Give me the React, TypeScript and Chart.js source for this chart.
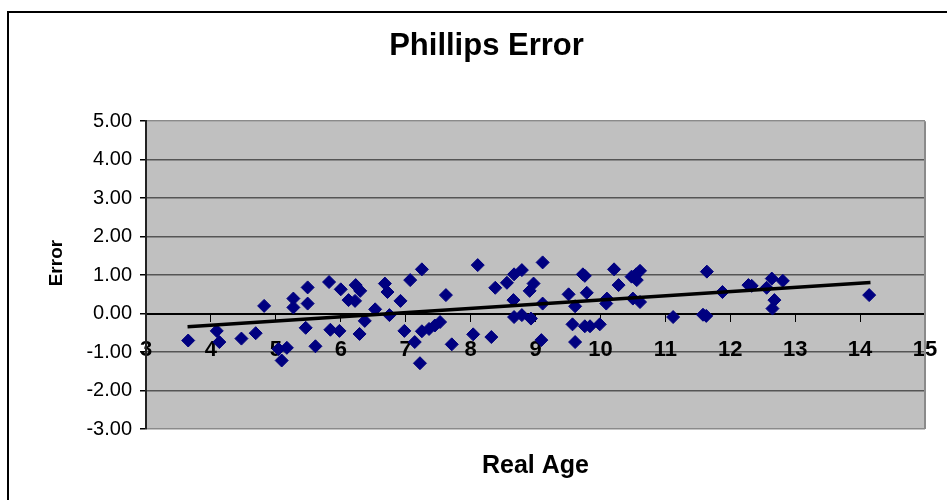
import { useEffect, useRef } from "react";
import { Chart, registerables } from "chart.js";

Chart.register(...registerables);

const chartTitle = "Phillips Error";
const xAxisTitle = "Real Age";
const yAxisTitle = "Error";

const xMin = 3;
const xMax = 15;
const yMin = -3;
const yMax = 5;

const realAge = [
  3.65, 4.09, 4.13, 4.47, 4.69, 4.82, 5.04, 5.17, 5.09, 5.27,
  5.27, 5.49, 5.49, 5.46, 5.61, 5.82, 6.0, 6.12, 5.84, 5.98,
  6.23, 6.3, 6.22, 6.29, 6.37, 6.53, 6.68, 6.72, 6.75, 6.92,
  6.98, 7.07, 7.25, 7.14, 7.22, 7.25, 7.36, 7.45, 7.53, 7.62,
  7.71, 8.04, 8.11, 8.32, 8.38, 8.56, 8.67, 8.79, 8.66, 8.67,
  8.79, 8.93, 8.97, 8.91, 9.11, 9.11, 9.09, 9.51, 9.61, 9.57,
  9.61, 9.73, 9.76, 9.79, 9.76, 9.84, 9.99, 10.1, 10.09, 10.21,
  10.28, 10.48, 10.55, 10.61, 10.56, 10.5, 10.61, 11.12, 11.64, 11.58,
  11.63, 11.88, 12.28, 12.33, 12.56, 12.64, 12.81, 12.68, 12.65, 14.14,
];

const errorValues = [
  -0.7, -0.45, -0.74, -0.65, -0.51, 0.2, -0.92, -0.89, -1.22, 0.39,
  0.16, 0.68, 0.26, -0.37, -0.85, 0.82, 0.63, 0.35, -0.42, -0.45,
  0.74, 0.59, 0.33, -0.53, -0.19, 0.11, 0.78, 0.56, -0.04, 0.33,
  -0.45, 0.87, 1.15, -0.74, -1.29, -0.46, -0.4, -0.31, -0.22, 0.48,
  -0.8, -0.54, 1.26, -0.61, 0.67, 0.8, 1.02, 1.13, 0.35, -0.09,
  -0.04, -0.13, 0.78, 0.59, 1.33, 0.26, -0.69, 0.5, 0.19, -0.28,
  -0.74, 1.02, 0.98, 0.54, -0.33, -0.33, -0.28, 0.39, 0.26, 1.15,
  0.74, 0.96, 1.02, 1.11, 0.87, 0.39, 0.3, -0.09, 1.09, -0.03,
  -0.06, 0.56, 0.74, 0.72, 0.67, 0.91, 0.85, 0.35, 0.13, 0.48,
];

const trendX = [3.64, 14.16];
const trendY = [-0.34, 0.81];

const FONT = "'Liberation Sans', Arial, Helvetica, sans-serif";

const plotArea = {
  id: "plotArea",
  beforeDraw(chart: any) {
    const { ctx, chartArea: a } = chart;
    ctx.save();
    ctx.fillStyle = "#C0C0C0";
    ctx.fillRect(a.left, a.top, a.right - a.left, a.bottom - a.top);
    ctx.restore();
  },
  beforeDatasetsDraw(chart: any) {
    const { ctx, chartArea: a } = chart;
    ctx.save();
    ctx.strokeStyle = "#8a8a8a";
    ctx.lineWidth = 2;
    ctx.beginPath();
    ctx.moveTo(a.right, a.top);
    ctx.lineTo(a.right, a.bottom);
    ctx.stroke();
    ctx.restore();
  },
  afterDraw(chart: any) {
    const { ctx, chartArea: a } = chart;
    ctx.save();
    ctx.translate(57, (a.top + a.bottom) / 2 - 12);
    ctx.rotate(-Math.PI / 2);
    ctx.fillStyle = "#000";
    ctx.font = `bold 19px ${FONT}`;
    ctx.textAlign = "center";
    ctx.textBaseline = "middle";
    ctx.fillText(yAxisTitle, 0, 0);
    ctx.restore();
  },
};

export default function App() {
  const ref = useRef<HTMLCanvasElement | null>(null);

  useEffect(() => {
    if (!ref.current) return;
    const points = realAge.map((x, i) => ({ x, y: errorValues[i] }));
    const trend = trendX.map((x, i) => ({ x, y: trendY[i] }));
    const chart = new Chart(ref.current, {
      type: "scatter",
      data: {
        datasets: [
          {
            label: "Error",
            data: points,
            xAxisID: "x",
            yAxisID: "y",
            pointStyle: "rectRot",
            pointRadius: 6.5,
            pointHoverRadius: 6.5,
            backgroundColor: "#000080",
            borderColor: "#000080",
            borderWidth: 1,
            order: 2,
          },
          {
            label: "Trend",
            data: trend,
            xAxisID: "x",
            yAxisID: "y",
            showLine: true,
            pointRadius: 0,
            borderColor: "#000000",
            borderWidth: 3.5,
            order: 1,
          } as any,
        ],
      },
      options: {
        responsive: false,
        animation: false,
        devicePixelRatio: 1,
        layout: { padding: { left: 48, right: 22, top: 0, bottom: 0 } },
        plugins: {
          legend: { display: false },
          tooltip: { enabled: false },
          title: {
            display: true,
            text: chartTitle,
            color: "#000",
            font: { family: FONT, size: 31, weight: "bold", lineHeight: 1.2 },
            padding: { top: 28, bottom: 56 },
          },
        },
        scales: {
          x: {
            type: "linear",
            position: { y: 0 } as any,
            min: xMin,
            max: xMax,
            afterFit(scale: any) {
              scale.paddingLeft = 0;
              scale.paddingRight = 0;
            },
            ticks: {
              stepSize: 1,
              autoSkip: false,
              maxRotation: 0,
              padding: 16,
              color: "#000",
              font: { family: FONT, size: 22, weight: "bold" },
            },
            grid: {
              drawOnChartArea: false,
              drawTicks: true,
              tickLength: 7,
              tickColor: "#000",
              tickWidth: 1,
            },
            border: { display: true, color: "#000", width: 2 },
          },
          xt: {
            type: "linear",
            position: "bottom",
            min: 0,
            max: 1,
            ticks: { display: false },
            grid: { display: false },
            border: { display: false },
            title: {
              display: true,
              text: xAxisTitle,
              color: "#000",
              font: { family: FONT, size: 25, weight: "bold", lineHeight: 1.2 },
              padding: { top: 14, bottom: 19 },
            },
          },
          y: {
            type: "linear",
            position: "left",
            min: yMin,
            max: yMax,
            afterFit(scale: any) {
              scale.width = 98;
            },
            ticks: {
              stepSize: 1,
              padding: 8,
              color: "#000",
              font: { family: FONT, size: 20 },
              callback: (v: any) => Number(v).toFixed(2),
            },
            grid: {
              drawTicks: true,
              tickLength: 6,
              tickColor: "#000",
              lineWidth: 1.5,
              color: (ctx: any) => {
                const v = ctx.tick ? ctx.tick.value : null;
                if (v === 0) return "#000";
                if (v === yMax || v === yMin) return "#8a8a8a";
                return "#555";
              },
            },
            border: { display: true, color: "#222", width: 2 },
          },
        },
      } as any,
      plugins: [plotArea],
    });
    return () => chart.destroy();
  }, []);

  return (
    <div style={{ position: "fixed", left: 0, top: 0, width: 947, height: 500, overflow: "hidden", background: "#fff" }}>
      <div
        style={{
          position: "absolute",
          left: 7,
          top: 11,
          width: 1000,
          height: 1000,
          border: "2px solid #000",
          boxSizing: "border-box",
        }}
      />
      <canvas
        ref={ref}
        width={947}
        height={500}
        style={{ position: "absolute", left: 0, top: 0, width: 947, height: 500 }}
      />
    </div>
  );
}
